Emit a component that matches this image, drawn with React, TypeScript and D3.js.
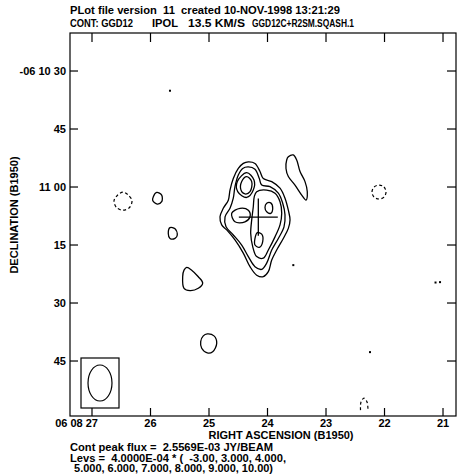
import React from "react";
import * as d3 from "d3";

// RA in seconds of time past 06h08m, Dec in arcsec past -06 10 00
const raTicks = [27, 26, 25, 24, 23, 22, 21];
const raTickLabels = ["06 08 27", "26", "25", "24", "23", "22", "21"];
const decTicks = [30, 45, 60, 75, 90, 105];
const decTickLabels = ["-06 10 30", "45", "11 00", "15", "30", "45"];

const raDomain = [27.376, 20.778];
const decDomain = [20.17, 119.22];

// contour levels: 4.0E-04 * (-3, 3, 4, 5, 6, ...)
const lev3Main = [
  [24.328, 53.5], [24.214, 53.9], [24.128, 56.0], [24.072, 57.8], [23.928, 58.6], [23.786, 60.3],
  [23.701, 62.9], [23.644, 66.0], [23.615, 68.5], [23.644, 70.7], [23.73, 73.3], [23.843, 76.3],
  [23.928, 78.9], [23.986, 81.9], [24.072, 83.2], [24.185, 82.8], [24.299, 80.6], [24.414, 77.1],
  [24.556, 73.7], [24.697, 71.1], [24.783, 69.8], [24.812, 67.7], [24.756, 65.5], [24.67, 63.4],
  [24.641, 60.8], [24.585, 57.8], [24.499, 55.2], [24.414, 53.9],
];
const lev4Main = [
  [24.328, 54.8], [24.214, 55.4], [24.14, 57.8], [24.099, 59.5], [23.957, 59.9], [23.815, 61.6],
  [23.74, 64.2], [23.701, 67.2], [23.718, 70.3], [23.815, 73.3], [23.928, 76.3], [24.014, 79.7],
  [24.099, 81.3], [24.214, 80.6], [24.328, 78.0], [24.441, 75.0], [24.585, 72.4], [24.709, 70.3],
  [24.726, 67.7], [24.641, 65.5], [24.585, 62.9], [24.556, 59.9], [24.499, 56.9], [24.424, 55.2],
];
const lev5North = [
  [24.356, 56.3], [24.231, 58.2], [24.243, 60.8], [24.356, 62.7], [24.509, 61.2], [24.516, 58.6],
];
const lev6North = [
  [24.356, 57.3], [24.27, 58.6], [24.299, 61.2], [24.385, 61.8], [24.453, 60.8], [24.441, 58.6],
];
const lev5West = [
  [24.612, 66.8], [24.47, 65.5], [24.328, 66.0], [24.299, 67.7], [24.385, 69.0], [24.556, 69.0],
];
const lev5East = [
  [24.185, 61.2], [24.014, 60.8], [23.872, 61.6], [23.786, 63.8], [23.757, 66.8], [23.786, 69.8],
  [23.872, 72.9], [23.986, 76.3], [24.072, 78.4], [24.185, 78.0], [24.253, 75.4], [24.287, 72.0],
  [24.27, 68.5], [24.243, 65.1], [24.226, 62.5],
];
const lev6East = [
  [24.014, 64.2], [23.945, 64.1], [23.911, 65.5], [23.945, 66.8], [24.014, 66.4], [24.043, 65.3],
];
const lev6South = [
  [24.174, 71.8], [24.099, 72.2], [24.082, 74.1], [24.14, 75.6], [24.214, 75.0], [24.214, 73.3],
];
const lev3Ridge = [
  [23.644, 52.2], [23.559, 51.7], [23.501, 53.0], [23.444, 56.0], [23.359, 58.6], [23.32, 61.2],
  [23.342, 63.4], [23.415, 62.1], [23.53, 59.5], [23.644, 57.3], [23.684, 55.2], [23.672, 53.0],
];
const lev3BlobA = [
  [25.894, 61.4], [25.809, 62.1], [25.809, 63.8], [25.884, 64.4], [25.962, 63.5], [25.952, 62.5],
];
const lev3BlobB = [
  [25.667, 70.5], [25.581, 70.8], [25.542, 72.4], [25.581, 73.3], [25.667, 73.3], [25.696, 72.0],
];
const lev3BlobC = [
  [25.381, 80.8], [25.296, 81.5], [25.183, 83.2], [25.108, 84.8], [25.183, 86.2], [25.325, 86.8],
  [25.427, 86.2], [25.45, 83.2], [25.427, 81.5],
];
const lev3BlobD = [
  [25.029, 98.0], [24.915, 98.5], [24.868, 100.4], [24.937, 102.6], [25.029, 102.9], [25.125, 101.7],
  [25.142, 100.0], [25.098, 98.5],
];
const negWest = [
  [26.47, 61.3], [26.359, 62.4], [26.316, 63.6], [26.359, 65.3], [26.47, 66.0], [26.581, 65.3],
  [26.624, 63.6], [26.581, 62.4],
];
const negEast = [
  [22.094, 59.5], [22.009, 60.0], [21.974, 61.3], [22.009, 62.6], [22.094, 63.1], [22.179, 62.6],
  [22.214, 61.3], [22.179, 60.0],
];
const negSouthOpen = [
  [22.41, 117.7], [22.402, 115.6], [22.35, 114.6], [22.299, 115.6], [22.282, 117.7],
];
const specks = [
  [25.667, 35.1], [23.559, 80.2], [22.248, 102.7], [21.128, 84.7], [21.051, 84.6],
];

const closedPositive = [lev3Main, lev4Main, lev5North, lev6North, lev5West, lev5East, lev6East,
  lev6South, lev3Ridge, lev3BlobA, lev3BlobB, lev3BlobC, lev3BlobD];
const closedNegative = [negWest, negEast];

const crossCenter = [24.157, 67.8];
const crossHalfRa = 0.333; // s
const crossHalfDec = 4.8; // arcsec

const beamMajor = 9.3; // arcsec
const beamMinor = 6.2;

const title1 = "PLot file version  11  created 10-NOV-1998 13:21:29";
const title2Parts = ["CONT: GGD12", "IPOL", "13.5 KM/S", "GGD12C+R2SM.SQASH.1"];
const footerLines = [
  "Cont peak flux =  2.5569E-03 JY/BEAM",
  "Levs =  4.0000E-04 * (  -3.00, 3.000, 4.000,",
  " 5.000, 6.000, 7.000, 8.000, 9.000, 10.00)",
];

const W = 458;
const H = 475;
const left = 70, right = 456, top = 33, bottom = 416;
const font = "'Liberation Sans', Arial, Helvetica, sans-serif";

// where the pieces of the second title line sit, and how wide they are
const title2Pos = [[70, 63], [152, 26], [188, 57], [252, 102]];
const footerWidths = [203, 216, 202];

export default function App() {
  const x = d3.scaleLinear().domain(raDomain).range([left, right]);
  const y = d3.scaleLinear().domain(decDomain).range([top, bottom]);
  const pxPerArcsec = Math.abs(y(1) - y(0));

  const closed = d3.line<number[]>().x(d => x(d[0])).y(d => y(d[1]))
    .curve(d3.curveCatmullRomClosed.alpha(0.5));
  const open = d3.line<number[]>().x(d => x(d[0])).y(d => y(d[1]))
    .curve(d3.curveCatmullRom.alpha(0.5));

  const tick = 8;
  const boxL = left + 11, boxR = left + 49, boxT = bottom - 58, boxB = bottom - 8;

  return (
    <svg width={W} height={H} style={{ position: "absolute", left: 0, top: 0, background: "#fff" }}
      fontFamily={font} fontWeight="bold" fontSize={11}>
      <rect x={0} y={0} width={W} height={H} fill="#fff" />
      <text x={left} y={14} textLength={270} lengthAdjust="spacingAndGlyphs"
        style={{ whiteSpace: "pre" }}>{title1}</text>
      {title2Parts.map((t, i) => (
        <text key={i} x={title2Pos[i][0]} y={27} textLength={title2Pos[i][1]}
          lengthAdjust="spacingAndGlyphs">{t}</text>
      ))}

      <rect x={left} y={top} width={right - left} height={bottom - top} fill="none" stroke="#000" strokeWidth={1.2} />

      {raTicks.map((r, i) => (
        <g key={i}>
          <line x1={x(r)} x2={x(r)} y1={top} y2={top + tick + 1} stroke="#000" strokeWidth={1.2} />
          <line x1={x(r)} x2={x(r)} y1={bottom} y2={bottom - tick} stroke="#000" strokeWidth={1.2} />
          <text x={i === 0 ? x(r) + 6 : x(r)} y={427} textAnchor={i === 0 ? "end" : "middle"}
            style={{ whiteSpace: "pre" }}>{raTickLabels[i]}</text>
        </g>
      ))}
      {decTicks.map((d, i) => (
        <g key={i}>
          <line x1={left} x2={left + tick} y1={y(d)} y2={y(d)} stroke="#000" strokeWidth={1.2} />
          <line x1={right} x2={right - tick - 1} y1={y(d)} y2={y(d)} stroke="#000" strokeWidth={1.2} />
          <text x={66} y={y(d) + 4} textAnchor="end">{decTickLabels[i]}</text>
        </g>
      ))}

      <text x={281} y={439} textAnchor="middle">RIGHT ASCENSION (B1950)</text>
      <text transform={`translate(18,215) rotate(-90)`} textAnchor="middle">DECLINATION (B1950)</text>
      {footerLines.map((t, i) => (
        <text key={i} x={i === 2 ? left + 1 : left} y={451 + i * 10.6} textLength={footerWidths[i]}
          lengthAdjust="spacingAndGlyphs" style={{ whiteSpace: "pre" }}>{t}</text>
      ))}

      <g fill="none" stroke="#000" strokeWidth={1.3} strokeLinejoin="round">
        {closedPositive.map((c, i) => <path key={i} d={closed(c) || ""} />)}
      </g>
      <g fill="none" stroke="#000" strokeWidth={1.2} strokeDasharray="3,2.5">
        {closedNegative.map((c, i) => <path key={i} d={closed(c) || ""} />)}
        <path d={open(negSouthOpen) || ""} />
      </g>
      {specks.map((s, i) => (
        <rect key={i} x={x(s[0]) - 1} y={y(s[1]) - 1} width={2} height={2} fill="#000" />
      ))}

      <g stroke="#000" strokeWidth={1.3}>
        <line x1={x(crossCenter[0] + crossHalfRa)} x2={x(crossCenter[0] - crossHalfRa)}
          y1={y(crossCenter[1])} y2={y(crossCenter[1])} />
        <line x1={x(crossCenter[0])} x2={x(crossCenter[0])}
          y1={y(crossCenter[1] - crossHalfDec)} y2={y(crossCenter[1] + crossHalfDec)} />
      </g>

      <rect x={boxL} y={boxT} width={boxR - boxL} height={boxB - boxT} fill="#fff" stroke="#000" strokeWidth={1.2} />
      <ellipse cx={(boxL + boxR) / 2} cy={(boxT + boxB) / 2} rx={(beamMinor / 2) * pxPerArcsec}
        ry={(beamMajor / 2) * pxPerArcsec} fill="none" stroke="#000" strokeWidth={1.2} />
    </svg>
  );
}
